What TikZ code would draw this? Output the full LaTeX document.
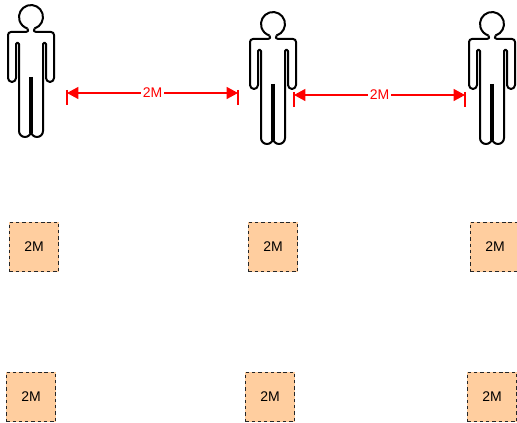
\documentclass[tikz,border=0pt]{standalone}
\usepackage{tikz}
\usepackage{xcolor}
\usepackage{fontspec}
\setmainfont{Liberation Sans}
\usetikzlibrary{arrows.meta}
\definecolor{peach}{HTML}{FFCE9F}

\begin{document}
\begin{tikzpicture}[x=0.75pt,y=0.75pt,yscale=-1,
  marker/.style={draw=black!85,dash pattern=on 2.5pt off 2.2pt,line width=1.1pt,fill=peach,minimum size=37pt,inner sep=0pt,font=\fontsize{10.5}{12}\selectfont},
  gap/.style={draw=red,line width=0.9pt,{Triangle[length=8.5pt,width=9pt]}-{Triangle[length=8.5pt,width=9pt]}},
  tick/.style={draw=red,line width=0.9pt},
  gaplabel/.style={fill=white,text=red,inner sep=1.5pt,font=\fontsize{10.5}{12}\selectfont},
  person/.pic={
    \begin{scope}[yscale=-1]
    \draw[line width=1.5pt] (3.5,11.5) arc[start angle=73,end angle=-253,radius=12];
    \foreach \side in {-1,1}
    { \draw[line width=1.5pt,line join=round,xscale=\side] (3.5,11.5) .. controls (2.5,13.5) and (2.5,15) .. (5,15)
        -- (20,15) arc[start angle=-90,end angle=0,radius=3] -- (23,61)
        arc[start angle=0,end angle=180,radius=4] -- (15,27)
        arc[start angle=0,end angle=-180,radius=1.5] -- (12,114)
        arc[start angle=0,end angle=180,radius=6];}
    \draw[line width=2.6pt] (0,60) -- (0,116);
    \end{scope}
  }]
\useasboundingbox (0,0) rectangle (517,423);
% people
\foreach \nm/\x/\y in {left/31/17,mid/273/24,right/492/24}
  {\pic (\nm) at (\x,\y) {person};}
% markers
\foreach \nm/\x/\y in {a/34/247,b/273/247,c/495/247,d/31/397,e/270/397,f/492/397}
  {\node [marker] (\nm) at (\x,\y) {2M};}
% distances
\foreach \nm/\xa/\xb/\y in {one/67/238/93,two/294/465/95}
{
  \coordinate (\nm start) at (\xa,\y);
  \coordinate (\nm end) at (\xb,\y);
  \coordinate (\nm starttip) at (\xa,\y+12);
  \coordinate (\nm endtip) at (\xb,\y+12);
  \coordinate (\nm starttop) at (\xa,\y-3);
  \coordinate (\nm endtop) at (\xb,\y-3);
  \draw[gap] (\nm start) -- node[gaplabel] (\nm label) {2M} (\nm end);
  \draw[tick] (\nm starttop) -- (\nm starttip);
  \draw[tick] (\nm endtop) -- (\nm endtip);
}
\end{tikzpicture}
\end{document}
